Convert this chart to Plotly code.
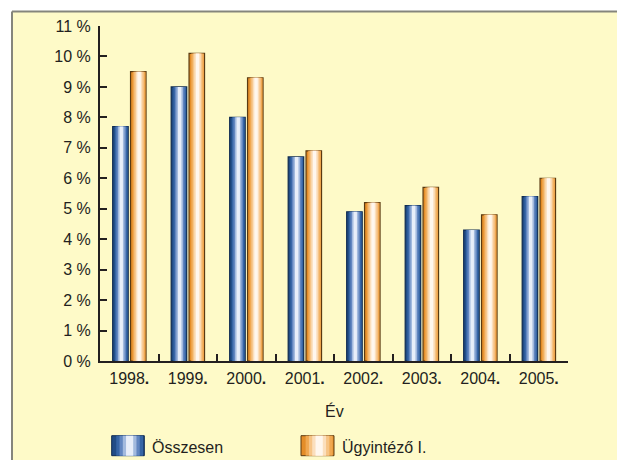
import plotly.graph_objects as go

years = ["1998", "1999", "2000", "2001", "2002", "2003", "2004", "2005"]
osszesen = [7.7, 9.0, 8.0, 6.7, 4.9, 5.1, 4.3, 5.4]
ugyintezo = [9.5, 10.1, 9.3, 6.9, 5.2, 5.7, 4.8, 6.0]
y_ticks = list(range(0, 12))
y_ticktext = [f"{v} %" for v in y_ticks]
series_names = ["Összesen", "Ügyintéző I."]

W_PX, H_PX = 617, 460
L, R, T, B = 100, 49, 26, 99
PW = W_PX - L - R
PH = H_PX - T - B


def px2x(px):
    return (px - L) / PW


def px2y(py):
    return (H_PX - B - py) / PH


cats = [y + "<b>.</b>" for y in years]

blue_layers = [(1.0, "#214c86"), (0.82, "#3665a5"), (0.62, "#6286c0"), (0.42, "#a3bade"), (0.22, "#e8eef9")]
orange_layers = [(1.0, "#e48d28"), (0.82, "#f0a851"), (0.62, "#f6c486"), (0.42, "#fbdfbd"), (0.22, "#fff7ee")]

BAR_W = 0.265
series = [
    (osszesen, -0.283, blue_layers, "#0f2a50", series_names[0]),
    (ugyintezo, 0.022, orange_layers, "#5a3a12", series_names[1]),
]
HL = 0.55  # highlight centre within bar

fig = go.Figure()
for vals, off, layers, edge, name in series:
    for i, (frac, col) in enumerate(layers):
        w = BAR_W * frac
        c = off + BAR_W * HL if i > 0 else off + BAR_W / 2
        fig.add_trace(go.Bar(
            x=cats, y=vals, name=name, width=w, offset=c - w / 2,
            marker=dict(color=col, line=dict(color=edge, width=1.2 if i == 0 else 0)),
            showlegend=False, hoverinfo="skip" if i else None,
        ))

# frame: yellow fill, grey top and left borders only
fig.add_shape(type="rect", xref="paper", yref="paper",
              x0=px2x(12), x1=px2x(700), y0=px2y(520), y1=px2y(11.5),
              fillcolor="#fefac8", line=dict(width=0), layer="below")
fig.add_shape(type="line", xref="paper", yref="paper",
              x0=px2x(12), x1=px2x(700), y0=px2y(11.5), y1=px2y(11.5),
              line=dict(color="#85857c", width=2), layer="below")
fig.add_shape(type="line", xref="paper", yref="paper",
              x0=px2x(12), x1=px2x(12), y0=px2y(11.5), y1=px2y(520),
              line=dict(color="#85857c", width=2), layer="below")

# legend (manual swatches + text)
legend_items = [(111.7, 144.3, 150, blue_layers, "#0f2a50", series_names[0]),
                (301, 334, 340, orange_layers, "#5a3a12", series_names[1])]
for x0, x1, tx, layers, edge, name in legend_items:
    w = x1 - x0
    for i, (frac, col) in enumerate(layers):
        sw = w * frac
        c = x0 + (w * HL if i > 0 else w / 2)
        fig.add_shape(type="rect", xref="paper", yref="paper",
                      x0=px2x(c - sw / 2), x1=px2x(c + sw / 2),
                      y0=px2y(455.7), y1=px2y(435.7),
                      fillcolor=col, line=dict(color=edge, width=1 if i == 0 else 0))
    fig.add_annotation(text=name, xref="paper", yref="paper", x=px2x(tx), y=px2y(447),
                       xanchor="left", yanchor="middle", showarrow=False,
                       font=dict(size=16, color="#231f20"))

fig.add_annotation(text="Év", xref="paper", yref="paper", x=0.5, y=px2y(410.7),
                   xanchor="center", yanchor="middle", showarrow=False,
                   font=dict(size=16, color="#231f20"))

fig.update_layout(
    width=W_PX, height=H_PX,
    margin=dict(l=L, r=R, t=T, b=B),
    paper_bgcolor="white", plot_bgcolor="rgba(0,0,0,0)",
    barmode="overlay", showlegend=False,
    font=dict(family="Liberation Sans, Arial, sans-serif", size=16, color="#231f20"),
    xaxis=dict(type="category", categoryorder="array", categoryarray=cats,
               range=[-0.5, 7.5], showline=True, linecolor="#231f20", linewidth=2,
               ticks="inside", tickson="boundaries", ticklen=7, tickwidth=2, tickcolor="#231f20",
               showgrid=False, zeroline=False, ticklabelstandoff=2),
    yaxis=dict(range=[0, 11], tickvals=y_ticks, ticktext=y_ticktext,
               showline=True, linecolor="#231f20", linewidth=2,
               ticks="inside", ticklen=7, tickwidth=2, tickcolor="#231f20",
               showgrid=False, zeroline=False, ticklabelstandoff=4),
)

fig.write_html(
    "out.html",
    config={"displayModeBar": False},
    post_script=(
        "document.documentElement.style.overflow='hidden';"
        "document.documentElement.style.margin='0';"
        "document.body.style.margin='0';document.body.style.overflow='hidden';"
    ),
)
